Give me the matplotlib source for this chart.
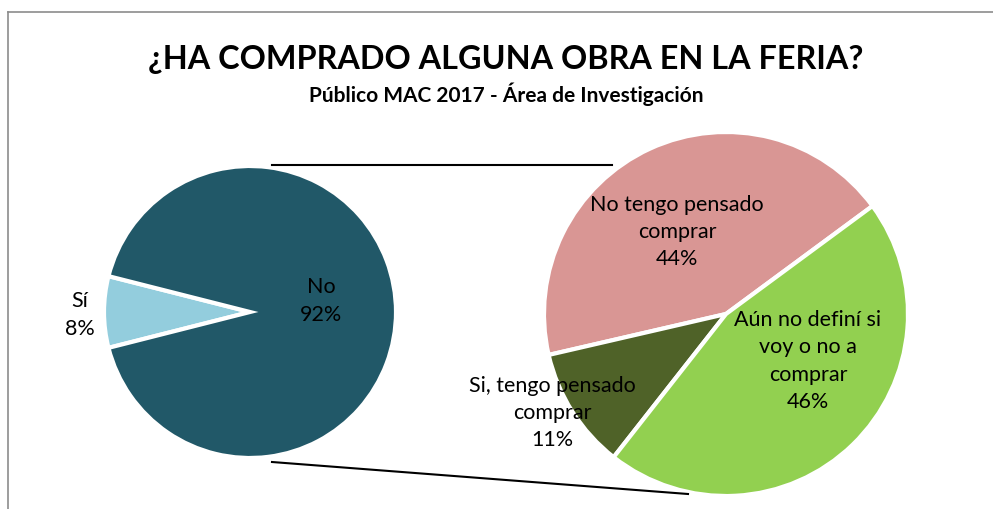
import matplotlib
matplotlib.use("Agg")
import matplotlib.pyplot as plt
from matplotlib.lines import Line2D

plt.rcParams['font.family'] = ['Lato', 'DejaVu Sans']

title = "¿HA COMPRADO ALGUNA OBRA EN LA FERIA?"
subtitle = "Público MAC 2017 - Área de Investigación"

main_labels = ["Sí", "No"]
main_values = [7.9, 92.1]
main_colors = ["#93CDDD", "#215868"]

sub_labels = ["No tengo pensado\ncomprar", "Si, tengo pensado\ncomprar", "Aún no definí si\nvoy o no a\ncomprar"]
sub_values = [43.5, 10.8, 45.7]
sub_colors = ["#D99694", "#4F6228", "#92D050"]

W, H = 993, 509
fig = plt.figure(figsize=(W / 100, H / 100), dpi=100)
ax = fig.add_axes([0, 0, 1, 1])

def Y(y):
    return H - y

# left pie
lc = (250, Y(312)); lr = 146
ax.pie(main_values, colors=main_colors, startangle=180 - main_values[0] * 3.6 / 2,
       center=lc, radius=lr, counterclock=True,
       wedgeprops=dict(edgecolor='white', linewidth=3), frame=True)

# right pie
rc = (726, Y(314)); rr = 182
ax.pie(sub_values, colors=sub_colors, startangle=36.4, center=rc, radius=rr,
       counterclock=True, wedgeprops=dict(edgecolor='white', linewidth=3), frame=True)
ax.set_xlim(0, W)
ax.set_ylim(0, H)
ax.set_aspect('equal')
ax.axis('off')

# connector lines
ax.plot([272, 612], [Y(165), Y(165)], color='black', lw=1.5)
ax.plot([272, 688], [Y(462), Y(494)], color='black', lw=1.5)

fs = 15.5
ls = 1.45
ax.text(321, Y(301), f"{main_labels[1]}\n{main_values[1]:.0f}%", ha='center', va='center', fontsize=fs, color='black', linespacing=ls)
ax.text(80, Y(315), f"{main_labels[0]}\n{main_values[0]:.0f}%", ha='center', va='center', fontsize=fs, color='black', linespacing=ls)
ax.text(677, Y(232), f"{sub_labels[0]}\n{sub_values[0]:.0f}%", ha='center', va='center', fontsize=fs, color='black', linespacing=ls)
ax.text(552, Y(413), f"{sub_labels[1]}\n{sub_values[1]:.0f}%", ha='center', va='center', fontsize=fs, color='black', linespacing=ls)
ax.text(808, Y(361), f"{sub_labels[2]}\n{sub_values[2]:.0f}%", ha='center', va='center', fontsize=fs, color='black', linespacing=ls)

fig.text(506 / W, 1 - 60 / H, title, ha='center', va='center', fontsize=23.3, fontweight='bold')
fig.text(506 / W, 1 - 94 / H, subtitle, ha='center', va='center', fontsize=15, fontweight='bold')

# chart border (partially visible)
fig.add_artist(Line2D([8 / W, 1], [1 - 12 / H, 1 - 12 / H], color='#8c8c8c', lw=1.2, transform=fig.transFigure))
fig.add_artist(Line2D([8 / W, 8 / W], [0, 1 - 12 / H], color='#8c8c8c', lw=1.2, transform=fig.transFigure))

fig.savefig("out.png", dpi=100, facecolor='white')
